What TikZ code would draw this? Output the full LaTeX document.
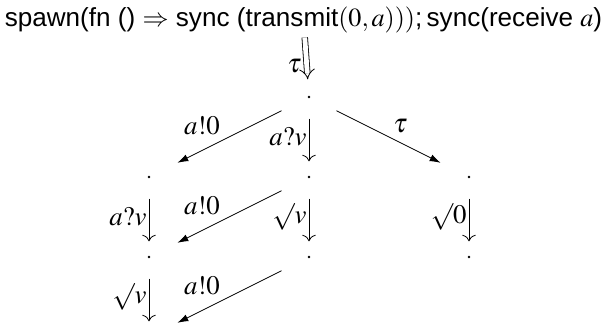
\documentclass[tikz,border=0pt]{standalone}
\usepackage{mathptmx}
\usepackage{fontspec}
\setmainfont{Liberation Sans}
\usetikzlibrary{arrows.meta, positioning}

\begin{document}
\begin{tikzpicture}[x=1pt, y=1pt, node distance=40pt and 80pt, on grid, >={To[scale=1.3]}, every node/.style={font=\fontsize{13.4}{15}\selectfont}]
    \tikzstyle{state} = [circle, fill, inner sep=0pt, minimum size=1.3pt]
    \tikzstyle{bigarrow} = [draw, double, double distance=2.4pt, -{Implies[length=4pt, width=9pt]}, shorten <=0pt, shorten >=8pt]
    \tikzstyle{downarrow} = [draw, ->, shorten <=10pt, shorten >=7pt]
    \tikzstyle{sidearrow} = [draw, -{Latex[length=5.5pt, width=3.6pt]}, shorten <=14.5pt, shorten >=15pt]
    \useasboundingbox (-154.5,-119) rectangle (149,48.5);

    \node [state] (r) at (0,0) {};
    \node [above=38.5pt of r, xshift=-2.75pt, inner sep=2pt, font=\fontsize{13.05}{15}\selectfont] (prog) {spawn(fn () $\Rightarrow$ sync (transmit$(0, a)))$;\,sync(receive $a$)};
    \node [state, below left=of r] (l1) {};
    \node [state, below=of r] (m1) {};
    \node [state, below right=of r] (r1) {};
    \node [state, below=of l1] (l2) {};
    \node [state, below=of m1] (m2) {};
    \node [state, below=of r1] (r2) {};
    \node [state, below=of l2] (l3) {};

    \path [bigarrow] (prog) -- node [left, inner sep=2.5pt] {$\tau$} (r);
    \path [sidearrow] (r) -- node [pos=0.53, above left, inner sep=2pt] {$a!0$} (l1);
    \path [downarrow] (r) -- node [left, inner sep=1pt] {$a?v$} (m1);
    \path [sidearrow] (r) -- node [pos=0.5, above right, inner sep=2pt] {$\tau$} (r1);
    \path [downarrow] (l1) -- node [left, inner sep=1pt] {$a?v$} (l2);
    \path [sidearrow] (m1) -- node [pos=0.53, above left, inner sep=2pt] {$a!0$} (l2);
    \path [downarrow] (m1) -- node [left, inner sep=1pt] {$\surd v$} (m2);
    \path [downarrow] (r1) -- node [left, inner sep=1pt] {$\surd 0$} (r2);
    \path [downarrow] (l2) -- node [left, inner sep=1pt] {$\surd v$} (l3);
    \path [sidearrow] (m2) -- node [pos=0.53, above left, inner sep=2pt] {$a!0$} (l3);
\end{tikzpicture}
\end{document}
